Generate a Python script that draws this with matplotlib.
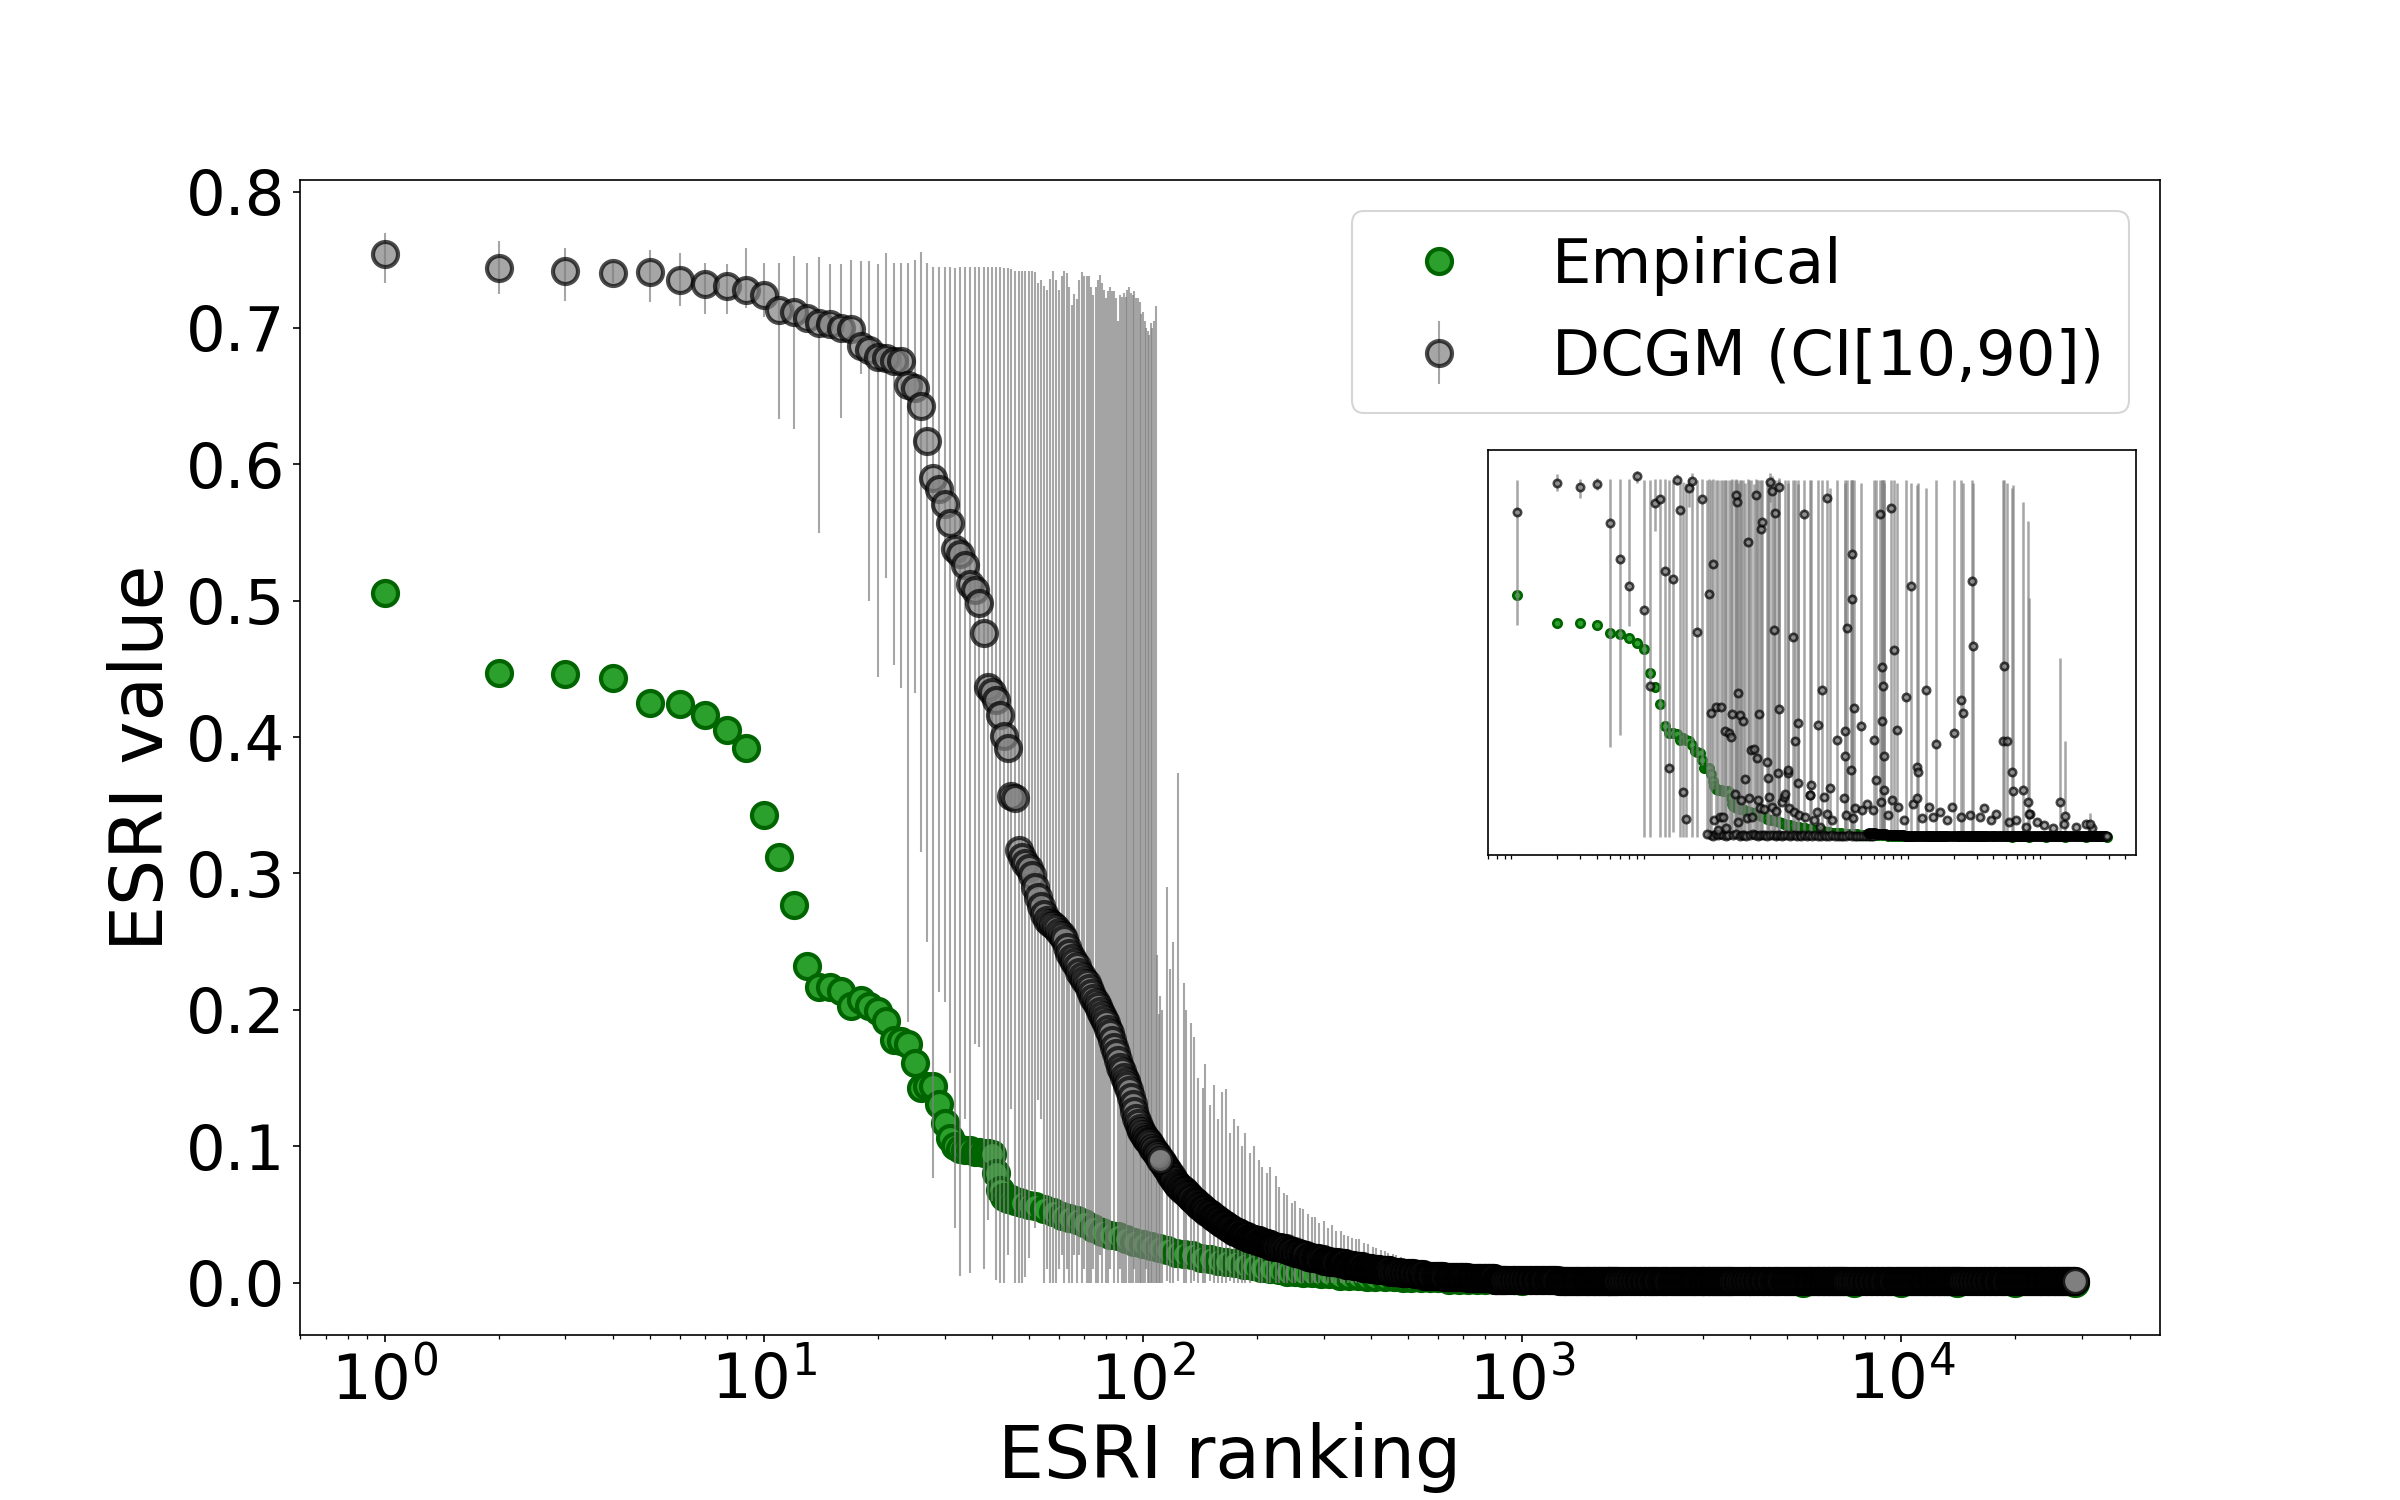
import numpy as np
import matplotlib.pyplot as plt

# ---------------- data ----------------
# Empirical ESRI, sorted by ranking
emp_rank = list(range(1, 49)) + [
    50, 52, 55, 58, 61, 64, 67, 70, 74, 78,
    82, 86, 90, 95, 100, 105, 110, 116, 122, 128,
    135, 142, 150, 158, 166, 175, 185, 195, 205, 216,
    228, 240, 252, 265, 280, 295, 310, 330, 350, 370,
    390, 410, 435, 460, 485, 510, 540, 570, 600, 640,
    680, 720, 760, 800, 850, 900, 950, 1000, 1300, 1700,
    2200, 3000, 4000, 5500, 7500, 10000, 14000, 20000, 28800]
emp_value = [
    0.506, 0.447, 0.446, 0.443, 0.425, 0.424, 0.416, 0.405, 0.392, 0.343,
    0.312, 0.277, 0.232, 0.217, 0.217, 0.214, 0.203, 0.207, 0.203, 0.199,
    0.192, 0.178, 0.177, 0.175, 0.161, 0.143, 0.144, 0.144, 0.131, 0.117,
    0.106, 0.100, 0.098, 0.097, 0.097, 0.096, 0.096, 0.095, 0.095, 0.094,
    0.080, 0.068, 0.063, 0.061, 0.061, 0.060, 0.059, 0.058,
    0.057, 0.056, 0.054, 0.052, 0.049, 0.047, 0.046, 0.044, 0.040, 0.037,
    0.035, 0.034, 0.032, 0.030, 0.028, 0.027, 0.025, 0.024, 0.022, 0.021,
    0.020, 0.018, 0.017, 0.016, 0.015, 0.014, 0.013, 0.012, 0.011, 0.010,
    0.009, 0.008, 0.008, 0.007, 0.007, 0.006, 0.006, 0.005, 0.005, 0.005,
    0.004, 0.004, 0.004, 0.004, 0.003, 0.003, 0.003, 0.003, 0.003, 0.002,
    0.002, 0.002, 0.002, 0.002, 0.002, 0.002, 0.002, 0.001, 0.001, 0.001,
    0.001, 0.001, 0.001, 0.000, 0.000, 0.000, 0.000, 0.000, 0.000]

# DCGM ESRI (median) with CI[10,90], ranks 1..111
dcgm_rank = list(range(1, 112))
dcgm_value = [
    0.754, 0.744, 0.742, 0.740, 0.741, 0.735, 0.732, 0.731, 0.728, 0.724,
    0.713, 0.712, 0.707, 0.704, 0.703, 0.700, 0.699, 0.687, 0.684, 0.679,
    0.678, 0.676, 0.676, 0.658, 0.656, 0.643, 0.617, 0.590, 0.582, 0.571,
    0.557, 0.538, 0.534, 0.526, 0.512, 0.508, 0.498, 0.476, 0.437, 0.433,
    0.427, 0.416, 0.401, 0.392, 0.357, 0.355, 0.317, 0.312, 0.308, 0.304,
    0.299, 0.290, 0.283, 0.276, 0.270, 0.266, 0.264, 0.262, 0.260, 0.257,
    0.255, 0.252, 0.246, 0.242, 0.238, 0.235, 0.232, 0.228, 0.225, 0.222,
    0.220, 0.216, 0.212, 0.209, 0.206, 0.203, 0.199, 0.196, 0.193, 0.190,
    0.186, 0.183, 0.178, 0.173, 0.168, 0.163, 0.158, 0.155, 0.151, 0.148,
    0.145, 0.141, 0.136, 0.131, 0.126, 0.121, 0.117, 0.113, 0.111, 0.109,
    0.107, 0.105, 0.104, 0.103, 0.101, 0.099, 0.097, 0.095, 0.094, 0.092,
    0.090]
dcgm_low = [
    0.733, 0.725, 0.720, 0.733, 0.719, 0.716, 0.710, 0.710, 0.715, 0.708,
    0.633, 0.626, 0.700, 0.550, 0.694, 0.634, 0.690, 0.666, 0.500, 0.444,
    0.517, 0.453, 0.436, 0.191, 0.432, 0.316, 0.250, 0.077, 0.213, 0.206,
    0.154, 0.040, 0.005, 0.120, 0.007, 0.175, 0.173, 0.010, 0.046, 0.060,
    0.002, 0.000, 0.000, 0.020, 0.127, 0.000, 0.000, 0.000, 0.004, 0.018,
    0.068, 0.040, 0.134, 0.120, 0.000, 0.010, 0.000, 0.000, 0.000, 0.010,
    0.020, 0.000, 0.010, 0.000, 0.000, 0.020, 0.000, 0.020, 0.000, 0.010,
    0.000, 0.000, 0.000, 0.010, 0.000, 0.000, 0.020, 0.000, 0.047, 0.000,
    0.000, 0.010, 0.170, 0.000, 0.160, 0.000, 0.010, 0.000, 0.000, 0.000,
    0.020, 0.000, 0.000, 0.000, 0.010, 0.000, 0.000, 0.000, 0.000, 0.000,
    0.000, 0.010, 0.000, 0.000, 0.000, 0.000, 0.000, 0.000, 0.000, 0.000,
    0.000]
dcgm_high = [
    0.770, 0.764, 0.759, 0.748, 0.757, 0.755, 0.748, 0.747, 0.759, 0.748,
    0.748, 0.753, 0.748, 0.752, 0.747, 0.747, 0.750, 0.749, 0.749, 0.747,
    0.755, 0.748, 0.748, 0.748, 0.750, 0.756, 0.748, 0.745, 0.745, 0.745,
    0.745, 0.744, 0.745, 0.745, 0.745, 0.745, 0.745, 0.745, 0.745, 0.745,
    0.745, 0.745, 0.744, 0.744, 0.743, 0.742, 0.742, 0.742, 0.742, 0.742,
    0.742, 0.741, 0.733, 0.735, 0.731, 0.728, 0.736, 0.742, 0.735, 0.728,
    0.738, 0.742, 0.740, 0.730, 0.717, 0.725, 0.721, 0.735, 0.741, 0.738,
    0.738, 0.738, 0.730, 0.724, 0.730, 0.735, 0.739, 0.733, 0.728, 0.722,
    0.727, 0.730, 0.727, 0.727, 0.722, 0.705, 0.724, 0.723, 0.726, 0.723,
    0.728, 0.730, 0.726, 0.724, 0.727, 0.722, 0.722, 0.719, 0.710, 0.712,
    0.705, 0.700, 0.698, 0.695, 0.704, 0.700, 0.705, 0.716, 0.240, 0.197,
    0.210]

# DCGM tail, ranks 112..28800 (one octave per block)
tail_rank = (list(range(112, 224, 1)) + list(range(224, 448, 2))
             + list(range(448, 896, 4)) + list(range(896, 1792, 8))
             + list(range(1792, 3584, 16)) + list(range(3584, 7168, 32))
             + list(range(7168, 14336, 64)) + list(range(14336, 28800, 128)) + [28800])
tail_value = [
    # 112 .. 223
    0.089, 0.088, 0.086, 0.084, 0.083, 0.081, 0.079, 0.078, 0.076, 0.075, 0.073, 0.072, 0.071, 0.070, 0.069, 0.068,
    0.068, 0.067, 0.066, 0.065, 0.064, 0.063, 0.062, 0.061, 0.060, 0.060, 0.059, 0.058, 0.057, 0.056, 0.056, 0.055,
    0.054, 0.054, 0.053, 0.052, 0.052, 0.051, 0.050, 0.050, 0.049, 0.048, 0.048, 0.047, 0.047, 0.046, 0.046, 0.045,
    0.045, 0.044, 0.044, 0.043, 0.043, 0.042, 0.042, 0.041, 0.041, 0.040, 0.040, 0.039, 0.039, 0.038, 0.038, 0.037,
    0.037, 0.037, 0.037, 0.036, 0.036, 0.035, 0.035, 0.035, 0.035, 0.034, 0.034, 0.034, 0.034, 0.033, 0.033, 0.033,
    0.033, 0.032, 0.032, 0.032, 0.032, 0.031, 0.031, 0.031, 0.031, 0.031, 0.031, 0.030, 0.030, 0.030, 0.030, 0.030,
    0.029, 0.029, 0.029, 0.029, 0.029, 0.028, 0.028, 0.028, 0.028, 0.027, 0.027, 0.027, 0.027, 0.027, 0.027, 0.026,
    # 224 .. 446
    0.026, 0.026, 0.026, 0.026, 0.025, 0.025, 0.025, 0.025, 0.024, 0.024, 0.023, 0.023, 0.023, 0.023, 0.022, 0.022,
    0.022, 0.022, 0.021, 0.021, 0.020, 0.020, 0.020, 0.020, 0.019, 0.019, 0.019, 0.019, 0.018, 0.018, 0.018, 0.018,
    0.018, 0.018, 0.017, 0.017, 0.017, 0.017, 0.016, 0.016, 0.016, 0.016, 0.016, 0.016, 0.015, 0.015, 0.015, 0.015,
    0.015, 0.015, 0.015, 0.015, 0.014, 0.014, 0.014, 0.014, 0.014, 0.014, 0.014, 0.014, 0.013, 0.013, 0.013, 0.013,
    0.013, 0.013, 0.013, 0.013, 0.012, 0.012, 0.012, 0.012, 0.012, 0.012, 0.012, 0.012, 0.012, 0.012, 0.011, 0.011,
    0.011, 0.011, 0.011, 0.011, 0.011, 0.011, 0.011, 0.011, 0.010, 0.010, 0.010, 0.010, 0.010, 0.010, 0.010, 0.010,
    0.010, 0.010, 0.009, 0.009, 0.009, 0.009, 0.009, 0.009, 0.009, 0.009, 0.009, 0.009, 0.009, 0.009, 0.009, 0.009,
    # 448 .. 892
    0.008, 0.008, 0.008, 0.008, 0.008, 0.008, 0.008, 0.008, 0.007, 0.007, 0.007, 0.007, 0.007, 0.007, 0.007, 0.007,
    0.007, 0.007, 0.006, 0.006, 0.006, 0.006, 0.006, 0.006, 0.006, 0.006, 0.005, 0.005, 0.005, 0.005, 0.005, 0.005,
    0.005, 0.005, 0.005, 0.005, 0.005, 0.005, 0.005, 0.005, 0.005, 0.005, 0.005, 0.005, 0.004, 0.004, 0.004, 0.004,
    0.004, 0.004, 0.004, 0.004, 0.004, 0.004, 0.004, 0.004, 0.004, 0.004, 0.004, 0.004, 0.004, 0.004, 0.004, 0.004,
    0.004, 0.004, 0.004, 0.004, 0.003, 0.003, 0.003, 0.003, 0.003, 0.003, 0.003, 0.003, 0.003, 0.003, 0.003, 0.003,
    0.003, 0.003, 0.003, 0.003, 0.003, 0.003, 0.003, 0.003, 0.003, 0.003, 0.003, 0.003, 0.003, 0.003, 0.003, 0.003,
    0.003, 0.003, 0.003, 0.003, 0.002, 0.002, 0.002, 0.002, 0.002, 0.002, 0.002, 0.002, 0.002, 0.002, 0.002, 0.002,
    # 896 .. 1784
    0.002, 0.002, 0.002, 0.002, 0.002, 0.002, 0.002, 0.002, 0.002, 0.002, 0.002, 0.002, 0.002, 0.002, 0.002, 0.002,
    0.002, 0.002, 0.002, 0.002, 0.002, 0.002, 0.002, 0.002, 0.002, 0.002, 0.002, 0.002, 0.002, 0.002, 0.002, 0.002,
    0.002, 0.002, 0.002, 0.002, 0.002, 0.002, 0.002, 0.002, 0.002, 0.002, 0.002, 0.002, 0.001, 0.001, 0.001, 0.001,
    0.001, 0.001, 0.001, 0.001, 0.001, 0.001, 0.001, 0.001, 0.001, 0.001, 0.001, 0.001, 0.001, 0.001, 0.001, 0.001,
    0.001, 0.001, 0.001, 0.001, 0.001, 0.001, 0.001, 0.001, 0.001, 0.001, 0.001, 0.001, 0.001, 0.001, 0.001, 0.001,
    0.001, 0.001, 0.001, 0.001, 0.001, 0.001, 0.001, 0.001, 0.001, 0.001, 0.001, 0.001, 0.001, 0.001, 0.001, 0.001,
    0.001, 0.001, 0.001, 0.001, 0.001, 0.001, 0.001, 0.001, 0.001, 0.001, 0.001, 0.001, 0.001, 0.001, 0.001, 0.001,
    # 1792 .. 3568
    0.001, 0.001, 0.001, 0.001, 0.001, 0.001, 0.001, 0.001, 0.001, 0.001, 0.001, 0.001, 0.001, 0.001, 0.001, 0.001,
    0.001, 0.001, 0.001, 0.001, 0.001, 0.001, 0.001, 0.001, 0.001, 0.001, 0.001, 0.001, 0.001, 0.001, 0.001, 0.001,
    0.001, 0.001, 0.001, 0.001, 0.001, 0.001, 0.001, 0.001, 0.001, 0.001, 0.001, 0.001, 0.001, 0.001, 0.001, 0.001,
    0.001, 0.001, 0.001, 0.001, 0.001, 0.001, 0.001, 0.001, 0.001, 0.001, 0.001, 0.001, 0.001, 0.001, 0.001, 0.001,
    0.001, 0.001, 0.001, 0.001, 0.001, 0.001, 0.001, 0.001, 0.001, 0.001, 0.001, 0.001, 0.001, 0.001, 0.001, 0.001,
    0.001, 0.001, 0.001, 0.001, 0.001, 0.001, 0.001, 0.001, 0.001, 0.001, 0.001, 0.001, 0.001, 0.001, 0.001, 0.001,
    0.001, 0.001, 0.001, 0.001, 0.001, 0.001, 0.001, 0.001, 0.001, 0.001, 0.001, 0.001, 0.001, 0.001, 0.001, 0.001,
    # 3584 .. 7136
    0.001, 0.001, 0.001, 0.001, 0.001, 0.001, 0.001, 0.001, 0.001, 0.001, 0.001, 0.001, 0.001, 0.001, 0.001, 0.001,
    0.001, 0.001, 0.001, 0.001, 0.001, 0.001, 0.001, 0.001, 0.001, 0.001, 0.001, 0.001, 0.001, 0.001, 0.001, 0.001,
    0.001, 0.001, 0.001, 0.001, 0.001, 0.001, 0.001, 0.001, 0.001, 0.001, 0.001, 0.001, 0.001, 0.001, 0.001, 0.001,
    0.001, 0.001, 0.001, 0.001, 0.001, 0.001, 0.001, 0.001, 0.001, 0.001, 0.001, 0.001, 0.001, 0.001, 0.001, 0.001,
    0.001, 0.001, 0.001, 0.001, 0.001, 0.001, 0.001, 0.001, 0.001, 0.001, 0.001, 0.001, 0.001, 0.001, 0.001, 0.001,
    0.001, 0.001, 0.001, 0.001, 0.001, 0.001, 0.001, 0.001, 0.001, 0.001, 0.001, 0.001, 0.001, 0.001, 0.001, 0.001,
    0.001, 0.001, 0.001, 0.001, 0.001, 0.001, 0.001, 0.001, 0.001, 0.001, 0.001, 0.001, 0.001, 0.001, 0.001, 0.001,
    # 7168 .. 14272
    0.001, 0.001, 0.001, 0.001, 0.001, 0.001, 0.001, 0.001, 0.001, 0.001, 0.001, 0.001, 0.001, 0.001, 0.001, 0.001,
    0.001, 0.001, 0.001, 0.001, 0.001, 0.001, 0.001, 0.001, 0.001, 0.001, 0.001, 0.001, 0.001, 0.001, 0.001, 0.001,
    0.001, 0.001, 0.001, 0.001, 0.001, 0.001, 0.001, 0.001, 0.001, 0.001, 0.001, 0.001, 0.001, 0.001, 0.001, 0.001,
    0.001, 0.001, 0.001, 0.001, 0.001, 0.001, 0.001, 0.001, 0.001, 0.001, 0.001, 0.001, 0.001, 0.001, 0.001, 0.001,
    0.001, 0.001, 0.001, 0.001, 0.001, 0.001, 0.001, 0.001, 0.001, 0.001, 0.001, 0.001, 0.001, 0.001, 0.001, 0.001,
    0.001, 0.001, 0.001, 0.001, 0.001, 0.001, 0.001, 0.001, 0.001, 0.001, 0.001, 0.001, 0.001, 0.001, 0.001, 0.001,
    0.001, 0.001, 0.001, 0.001, 0.001, 0.001, 0.001, 0.001, 0.001, 0.001, 0.001, 0.001, 0.001, 0.001, 0.001, 0.001,
    # 14336 .. 28800
    0.001, 0.001, 0.001, 0.001, 0.001, 0.001, 0.001, 0.001, 0.001, 0.001, 0.001, 0.001, 0.001, 0.001, 0.001, 0.001,
    0.001, 0.001, 0.001, 0.001, 0.001, 0.001, 0.001, 0.001, 0.001, 0.001, 0.001, 0.001, 0.001, 0.001, 0.001, 0.001,
    0.001, 0.001, 0.001, 0.001, 0.001, 0.001, 0.001, 0.001, 0.001, 0.001, 0.001, 0.001, 0.001, 0.001, 0.001, 0.001,
    0.001, 0.001, 0.001, 0.001, 0.001, 0.001, 0.001, 0.001, 0.001, 0.001, 0.001, 0.001, 0.001, 0.001, 0.001, 0.001,
    0.001, 0.001, 0.001, 0.001, 0.001, 0.001, 0.001, 0.001, 0.001, 0.001, 0.001, 0.001, 0.001, 0.001, 0.001, 0.001,
    0.001, 0.001, 0.001, 0.001, 0.001, 0.001, 0.001, 0.001, 0.001, 0.001, 0.001, 0.001, 0.001, 0.001, 0.001, 0.001,
    0.001, 0.001, 0.001, 0.001, 0.001, 0.001, 0.001, 0.001, 0.001, 0.001, 0.001, 0.001, 0.001, 0.001, 0.001, 0.001,
    0.001, 0.001]

# CI[10,90] of tail ranks where it still shows above the markers
ci_rank = [
    112, 116, 118, 120, 124, 128, 130, 134, 136, 140,
    144, 146, 150, 154, 158, 162, 166, 170, 174, 178,
    182, 186, 192, 196, 202, 206, 212, 216, 224, 228,
    236, 240, 248, 252, 260, 264, 272, 280, 284, 292,
    300, 308, 316, 324, 332, 340, 348, 356, 364, 372,
    384, 392, 404, 412, 424, 436, 444, 456, 464, 480, 488]
ci_low = [
    0.000, 0.001, 0.000, 0.000, 0.001, 0.000, 0.000, 0.000, 0.001, 0.000,
    0.000, 0.000, 0.001, 0.000, 0.000, 0.000, 0.000, 0.001, 0.000, 0.000,
    0.000, 0.000, 0.000, 0.001, 0.000, 0.000, 0.000, 0.000, 0.000, 0.000,
    0.000, 0.000, 0.000, 0.000, 0.000, 0.000, 0.000, 0.000, 0.000, 0.000,
    0.000, 0.000, 0.000, 0.000, 0.000, 0.000, 0.000, 0.000, 0.000, 0.000,
    0.000, 0.000, 0.000, 0.000, 0.000, 0.000, 0.000, 0.000, 0.000, 0.000, 0.000]
ci_high = [
    0.200, 0.290, 0.230, 0.250, 0.374, 0.220, 0.200, 0.190, 0.180, 0.150,
    0.143, 0.160, 0.130, 0.145, 0.120, 0.140, 0.142, 0.110, 0.120, 0.115,
    0.100, 0.110, 0.095, 0.100, 0.090, 0.085, 0.080, 0.085, 0.078, 0.070,
    0.066, 0.064, 0.058, 0.060, 0.055, 0.054, 0.050, 0.048, 0.048, 0.044,
    0.045, 0.040, 0.042, 0.038, 0.038, 0.035, 0.034, 0.033, 0.032, 0.032,
    0.029, 0.028, 0.026, 0.025, 0.024, 0.023, 0.022, 0.021, 0.020, 0.019, 0.018]

# Inset: DCGM value of each node placed at its empirical ranking
inset_rank = [
    1, 2, 3, 4, 5, 6, 7, 8, 9, 10,
    11, 12, 13, 14, 15, 16, 17, 18, 19, 20,
    21, 23, 25, 27, 28, 29, 30, 32, 33, 35,
    36, 37, 38, 40, 41, 42, 44, 45, 46, 47,
    48, 49, 51, 53, 56, 57, 59, 62, 64, 65,
    67, 70, 71, 77, 79, 80, 82, 84, 88, 89,
    94, 95, 96, 106, 111, 112, 122, 127, 132, 133,
    147, 165, 166, 190, 203, 219, 232, 262, 300, 302,
    315, 333, 341, 342, 350, 401, 498, 518, 552, 570,
    575, 584, 594, 598, 670, 703, 743, 873, 946, 1066,
    1080, 1233, 1470, 2030, 2287, 2377, 2748, 2793, 4700, 4820,
    5100, 5520, 5610, 6750, 7310, 7500, 12800, 13900, 21600]
inset_value = [
    0.679, 0.740, 0.732, 0.737, 0.656, 0.581, 0.525, 0.754, 0.473, 0.315,
    0.698, 0.705, 0.556, 0.143, 0.538, 0.745, 0.684, 0.094, 0.037, 0.728,
    0.744, 0.427, 0.705, 0.005, 0.508, 0.259, 0.571, 0.272, 0.013, 0.271,
    0.040, 0.220, 0.017, 0.216, 0.209, 0.257, 0.090, 0.714, 0.700, 0.300,
    0.255, 0.076, 0.241, 0.120, 0.616, 0.080, 0.181, 0.183, 0.714, 0.164,
    0.257, 0.644, 0.658, 0.157, 0.122, 0.083, 0.742, 0.723, 0.433, 0.677,
    0.132, 0.266, 0.732, 0.090, 0.132, 0.139, 0.417, 0.199, 0.238, 0.113,
    0.675, 0.087, 0.108, 0.234, 0.306, 0.709, 0.101, 0.201, 0.220, 0.169,
    0.436, 0.139, 0.590, 0.497, 0.269, 0.232, 0.202, 0.118, 0.675, 0.241,
    0.354, 0.315, 0.169, 0.097, 0.688, 0.391, 0.223, 0.292, 0.525, 0.146,
    0.136, 0.306, 0.194, 0.216, 0.285, 0.259, 0.534, 0.398, 0.199, 0.356,
    0.199, 0.136, 0.096, 0.097, 0.073, 0.048, 0.073, 0.043, 0.027]
inset_low = [
    0.443, 0.723, 0.709, 0.725, 0.188, 0.213, 0.440, 0.740, 0.000, 0.000,
    0.640, 0.000, 0.000, 0.000, 0.010, 0.735, 0.000, 0.000, 0.000, 0.690,
    0.000, 0.000, 0.150, 0.000, 0.000, 0.000, 0.100, 0.000, 0.000, 0.000,
    0.000, 0.000, 0.000, 0.000, 0.000, 0.000, 0.000, 0.000, 0.000, 0.000,
    0.000, 0.000, 0.000, 0.000, 0.000, 0.000, 0.000, 0.000, 0.000, 0.000,
    0.000, 0.000, 0.000, 0.000, 0.000, 0.000, 0.700, 0.000, 0.000, 0.000,
    0.000, 0.000, 0.000, 0.000, 0.000, 0.000, 0.000, 0.000, 0.000, 0.000,
    0.000, 0.000, 0.000, 0.000, 0.000, 0.000, 0.000, 0.000, 0.000, 0.000,
    0.000, 0.000, 0.000, 0.000, 0.000, 0.000, 0.000, 0.000, 0.000, 0.000,
    0.000, 0.000, 0.000, 0.000, 0.000, 0.000, 0.000, 0.000, 0.000, 0.000,
    0.000, 0.000, 0.000, 0.000, 0.000, 0.000, 0.000, 0.000, 0.000, 0.000,
    0.000, 0.000, 0.000, 0.000, 0.000, 0.000, 0.000, 0.000, 0.000]
inset_high = [
    0.745, 0.758, 0.747, 0.750, 0.747, 0.747, 0.747, 0.765, 0.745, 0.745,
    0.747, 0.747, 0.747, 0.745, 0.745, 0.758, 0.742, 0.742, 0.740, 0.747,
    0.760, 0.745, 0.748, 0.745, 0.748, 0.745, 0.748, 0.745, 0.745, 0.745,
    0.745, 0.745, 0.745, 0.745, 0.745, 0.748, 0.745, 0.748, 0.745, 0.740,
    0.745, 0.745, 0.745, 0.740, 0.748, 0.745, 0.745, 0.738, 0.748, 0.745,
    0.745, 0.745, 0.745, 0.745, 0.740, 0.745, 0.760, 0.755, 0.745, 0.745,
    0.745, 0.745, 0.750, 0.745, 0.745, 0.740, 0.745, 0.745, 0.745, 0.738,
    0.745, 0.745, 0.745, 0.745, 0.745, 0.745, 0.730, 0.745, 0.745, 0.740,
    0.745, 0.745, 0.745, 0.745, 0.745, 0.740, 0.745, 0.745, 0.745, 0.745,
    0.745, 0.745, 0.745, 0.740, 0.745, 0.745, 0.740, 0.745, 0.740, 0.735,
    0.740, 0.730, 0.745, 0.745, 0.745, 0.740, 0.745, 0.740, 0.745, 0.745,
    0.740, 0.730, 0.735, 0.700, 0.660, 0.500, 0.373, 0.200, 0.050]

# Inset: low-valued DCGM points (CI not visible)
inset_low_rank = [
    31, 34, 47, 55, 60, 66, 68, 74, 85, 91,
    100, 104, 114, 125, 135, 150, 164, 176, 184, 195,
    208, 222, 241, 296, 307, 346, 361, 406, 439, 495,
    565, 633, 685, 760, 837, 984, 1050, 1152, 1300, 1410,
    1580, 1780, 1950, 2290, 2680, 3150, 3400, 3850, 4170, 5280,
    5970, 7040, 7600, 8570, 9650, 11300, 13800, 16800, 20300, 22200]
inset_low_value = [
    0.034, 0.041, 0.031, 0.038, 0.041, 0.076, 0.059, 0.057, 0.062, 0.054,
    0.073, 0.083, 0.059, 0.052, 0.045, 0.041, 0.087, 0.034, 0.052, 0.020,
    0.083, 0.048, 0.034, 0.080, 0.045, 0.038, 0.059, 0.055, 0.069, 0.055,
    0.073, 0.045, 0.076, 0.062, 0.034, 0.069, 0.080, 0.038, 0.062, 0.041,
    0.052, 0.034, 0.062, 0.041, 0.045, 0.041, 0.059, 0.034, 0.048, 0.031,
    0.034, 0.020, 0.048, 0.031, 0.024, 0.017, 0.027, 0.020, 0.027, 0.017]

# Inset: near-zero DCGM values at empirical ranks 29..490
inset_zero_rank = [
    29, 30, 32, 33, 34, 36, 38, 39, 43, 45,
    48, 50, 52, 54, 58, 61, 63, 66, 69, 72,
    75, 78, 81, 86, 90, 93, 98, 101, 105, 109,
    116, 120, 126, 130, 137, 141, 148, 156, 162, 171,
    180, 189, 199, 209, 218, 230, 242, 253, 266, 279,
    293, 308, 323, 339, 356, 374, 393, 412, 433, 455, 477, 490]
inset_zero_value = [
    0.004, 0.002, 0.005, 0.003, 0.006, 0.003, 0.002, 0.004, 0.003, 0.005,
    0.002, 0.003, 0.004, 0.002, 0.003, 0.005, 0.003, 0.002, 0.004, 0.003,
    0.003, 0.002, 0.004, 0.003, 0.002, 0.003, 0.004, 0.002, 0.003, 0.003,
    0.002, 0.003, 0.004, 0.002, 0.003, 0.002, 0.003, 0.002, 0.003, 0.002,
    0.003, 0.002, 0.002, 0.003, 0.002, 0.002, 0.003, 0.002, 0.002, 0.002,
    0.002, 0.002, 0.003, 0.002, 0.002, 0.002, 0.002, 0.002, 0.002, 0.002, 0.002, 0.002]

# ---------------- plotting ----------------
fig = plt.figure(figsize=(16, 10), dpi=150)
ax = fig.add_axes([0.125, 0.11, 0.775, 0.77])

gray_style = dict(marker="o", linestyle="none", mfc="gray", mec="black", alpha=0.7)
green_style = dict(marker="o", linestyle="none", mfc="#2ca02c", mec="darkgreen")

# main panel
ax.plot(emp_rank, emp_value, ms=12, mew=2, label="Empirical", zorder=1, **green_style)

value = np.array(dcgm_value)
err = [np.maximum(value - np.array(dcgm_low), 0), np.maximum(np.array(dcgm_high) - value, 0)]
ax.errorbar(dcgm_rank, value, yerr=err, ms=12, mew=2, ecolor="gray",
            elinewidth=1, capsize=0, label="DCGM (CI[10,90])", zorder=2, **gray_style)
ax.vlines(ci_rank, ci_low, ci_high, colors="gray", lw=1, alpha=0.7, zorder=2)
ax.plot(tail_rank, tail_value, ms=12, mew=2, zorder=2, **gray_style)

ax.set_xscale("log")
ax.set_xlabel("ESRI ranking", fontsize=35)
ax.set_ylabel("ESRI value", fontsize=35)
ax.tick_params(axis="both", labelsize=30)
ax.legend(loc="upper right", fontsize=30)

# inset
axin = fig.add_axes([0.62, 0.43, 0.270, 0.27])
axin.plot(emp_rank, emp_value, ms=4, mew=1.3, zorder=1, **green_style)
in_value = np.array(inset_value)
in_err = [np.maximum(in_value - np.array(inset_low), 0),
          np.maximum(np.array(inset_high) - in_value, 0)]
axin.errorbar(inset_rank, in_value, yerr=in_err, ms=3.5, mew=1.3, ecolor="gray",
              elinewidth=1.2, capsize=0, zorder=2, **gray_style)
axin.plot(inset_low_rank, inset_low_value, ms=3.5, mew=1.3, zorder=2, **gray_style)
axin.plot(inset_zero_rank, inset_zero_value, ms=3.5, mew=1.3, zorder=2, **gray_style)
far = [(r, v) for r, v in zip(tail_rank, tail_value) if r >= 448]
axin.plot([r for r, v in far], [v for r, v in far], ms=3.5, mew=1.3, zorder=2, **gray_style)
axin.set_xscale("log")
axin.set_xticks([])
axin.set_yticks([])
axin.set_xlim(ax.get_xlim())
axin.set_ylim(ax.get_ylim())

fig.savefig("out.png", dpi=150)
